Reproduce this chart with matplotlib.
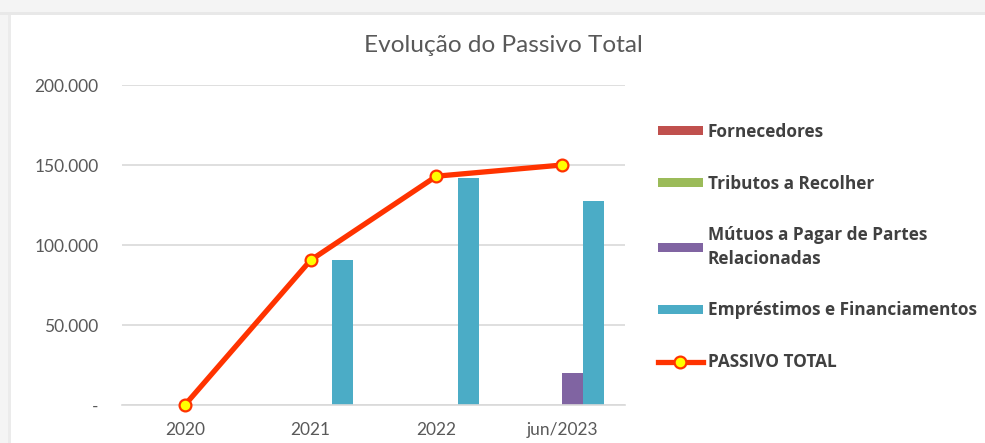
import matplotlib
matplotlib.use("Agg")
import matplotlib.pyplot as plt
import numpy as np
from matplotlib.patches import Rectangle
from matplotlib.lines import Line2D

categories = ["2020", "2021", "2022", "jun/2023"]
fornecedores = [0, 0, 0, 0]
tributos = [0, 0, 0, 0]
mutuos = [0, 0, 0, 19800]
emprestimos = [0, 90500, 142000, 127800]
passivo_total = [0, 90500, 143000, 150000]
yticks = [0, 50000, 100000, 150000, 200000]
ytick_labels = ["-", "50.000", "100.000", "150.000", "200.000"]

series_names = ["Fornecedores", "Tributos a Recolher",
                "Mútuos a Pagar de Partes\nRelacionadas",
                "Empréstimos e Financiamentos"]
series_vals = [fornecedores, tributos, mutuos, emprestimos]
colors = ["#C0504D", "#9BBB59", "#8064A2", "#4BACC6"]
line_color = "#FF3300"

plt.rcParams['font.family'] = ['Lato', 'DejaVu Sans']

fig = plt.figure(figsize=(9.85, 4.43), dpi=100)
fig.patch.set_facecolor("#F4F4F4")
# white chart area with light frame
fig.patches.append(Rectangle((11/985, 0), 1 - 11/985, 1 - 15/443,
                             transform=fig.transFigure, facecolor="white",
                             edgecolor="none", zorder=-3))
fig.patches.append(Rectangle((0, 1 - 15/443), 1, 3/443,
                             transform=fig.transFigure, facecolor="#E8E8E8",
                             edgecolor="none", zorder=-3))
fig.patches.append(Rectangle((8/985, 0), 3/985, 1 - 15/443,
                             transform=fig.transFigure, facecolor="#EBEBEB",
                             edgecolor="none", zorder=-3))

ax = fig.add_axes([122/985, 1 - 405/443, (625 - 122)/985, (405 - 85)/443])
ax.set_facecolor("none")

x = np.arange(len(categories))
w = 0.168
offsets = [-1.5 * w, -0.5 * w, 0.5 * w, 1.5 * w]
handles = []
for name, vals, c, off in zip(series_names, series_vals, colors, offsets):
    ax.bar(x + off, vals, width=w, color=c, label=name, zorder=2)
    handles.append(Rectangle((0, 0), 1, 1, facecolor=c, edgecolor="none"))

ax.plot(x, passivo_total, color=line_color, lw=3.8, marker="o",
        markersize=8.5, markerfacecolor="#FFFF00",
        markeredgecolor=line_color, markeredgewidth=1.6,
        zorder=4, clip_on=False, solid_capstyle="round")

ax.set_xlim(-0.5, len(categories) - 0.5)
ax.set_ylim(0, 200000)
ax.set_yticks(yticks)
ax.set_yticklabels(ytick_labels)
ax.set_xticks(x)
ax.set_xticklabels(categories)
ax.tick_params(axis="both", length=0, colors="#595959", labelsize=12.5)
ax.tick_params(axis="y", pad=17)
ax.tick_params(axis="x", pad=12)
for s in ["top", "right", "left"]:
    ax.spines[s].set_visible(False)
ax.spines["bottom"].set_color("#D9D9D9")
ax.spines["bottom"].set_linewidth(1.2)
ax.grid(axis="y", color="#D9D9D9", lw=1.2, zorder=0)
ax.set_axisbelow(True)

fig.text(503/985, 1 - 46/443, "Evolução do Passivo Total", ha="center",
         va="center", fontsize=17.6, color="#595959")

leg_handles = handles + [Line2D([0], [0], color=line_color, lw=3.8, marker="o",
                                markersize=8.5, markerfacecolor="#FFFF00",
                                markeredgecolor=line_color, markeredgewidth=1.6)]
leg_labels = series_names + ["PASSIVO TOTAL"]
leg = fig.legend(leg_handles, leg_labels, loc="upper left",
                 bbox_to_anchor=(658/985, 1 - 123/443), frameon=False,
                 handlelength=2.6, handleheight=0.45, handletextpad=0.3,
                 labelspacing=1.95, borderpad=0, borderaxespad=0,
                 prop={"family": ["Open Sans", "DejaVu Sans"], "weight": "bold",
                       "size": 12.4})
for t in leg.get_texts():
    t.set_color("#404040")
    t.set_linespacing(1.4)

fig.savefig("out.png", dpi=100)
